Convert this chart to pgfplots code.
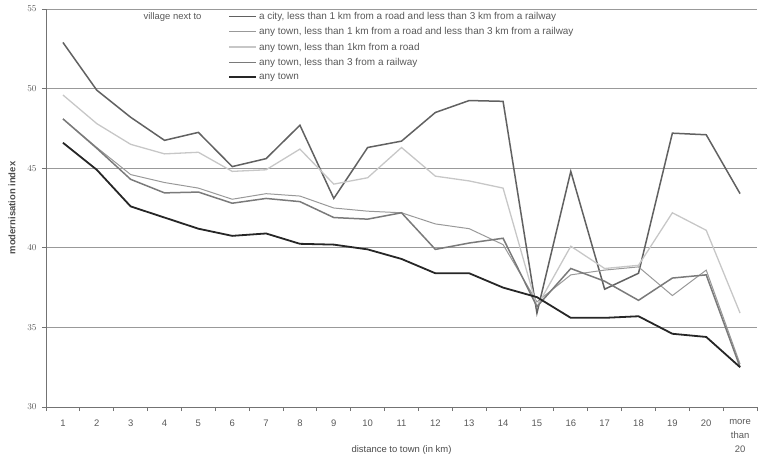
\documentclass[border=0pt]{standalone}
\usepackage{fontspec}
\setmainfont{Liberation Sans}
\usepackage{pgfplots}
\usepackage{pgfplotstable}
\pgfplotsset{compat=1.18}
\pgfplotstableread{
x y
1 52.9
2 49.9
3 48.2
4 46.75
5 47.25
6 45.1
7 45.6
8 47.7
9 43.1
10 46.3
11 46.7
12 48.5
13 49.25
14 49.2
15 35.9
16 44.8
17 37.4
18 38.4
19 47.2
20 47.1
21 43.4
}\sA
\pgfplotstableread{
x y
1 48.1
2 46.3
3 44.6
4 44.1
5 43.75
6 43.05
7 43.4
8 43.25
9 42.5
10 42.3
11 42.2
12 41.5
13 41.2
14 40.2
15 36.6
16 38.3
17 38.6
18 38.8
19 37.0
20 38.6
21 32.7
}\sB
\pgfplotstableread{
x y
1 49.6
2 47.8
3 46.5
4 45.9
5 46.0
6 44.8
7 44.9
8 46.2
9 44.0
10 44.4
11 46.3
12 44.5
13 44.2
14 43.75
15 36.3
16 40.1
17 38.7
18 38.9
19 42.2
20 41.1
21 35.9
}\sC
\pgfplotstableread{
x y
1 48.1
2 46.25
3 44.3
4 43.45
5 43.5
6 42.8
7 43.1
8 42.9
9 41.9
10 41.8
11 42.2
12 39.9
13 40.3
14 40.6
15 36.3
16 38.7
17 37.9
18 36.7
19 38.1
20 38.3
21 32.5
}\sD
\pgfplotstableread{
x y
1 46.6
2 44.9
3 42.6
4 41.9
5 41.2
6 40.75
7 40.9
8 40.25
9 40.2
10 39.9
11 39.3
12 38.4
13 38.4
14 37.5
15 36.9
16 35.6
17 35.6
18 35.7
19 34.6
20 34.4
21 32.5
}\sE
\begin{document}
\begin{tikzpicture}
\useasboundingbox (-46bp,-53bp) rectangle (719bp,407bp);
\begin{axis}[
  scale only axis, width=711bp, height=398bp,
  xmin=0.5, xmax=21.5, ymin=30, ymax=55,
  axis x line*=bottom, axis y line*=left,
  axis line style={black!55, line width=0.8bp},
  xtick={1,...,21},
  xticklabels={1,2,3,4,5,6,7,8,9,10,11,12,13,14,15,16,17,18,19,20,{more\\than\\20}},
  xticklabel style={align=center, font=\fontsize{9.5}{14}\selectfont, text=black!65, yshift=-5bp},
  major x tick style={draw=none},
  minor xtick={0.5,1.5,...,21.5},
  minor x tick style={black!55, line width=0.8bp},
  minor tick length=4bp,
  tick align=outside,
  ytick={30,35,...,55},
  yticklabel style={font=\fontsize{9.5}{10}\selectfont, text=black!65, xshift=-2bp},
  major tick length=4bp,
  major y tick style={black!55, line width=0.8bp},
  ymajorgrids, grid style={black!40, line width=0.8bp},
  xlabel={distance to town (in km)},
  xlabel style={at={(axis description cs:0.5,-0.108)}, anchor=center, font=\fontsize{9.5}{10}\selectfont, text=black!70},
  ylabel={modernisation index},
  ylabel style={at={(axis description cs:-0.048,0.5)}, anchor=center, font=\fontsize{9.5}{10}\selectfont\bfseries, text=black!70},
  legend style={at={(axis description cs:0.256,0.997)}, anchor=north west, draw=none, fill=none,
    font=\fontsize{10}{11}\selectfont, text=black!65, inner sep=0pt, row sep=2.5bp,
    cells={anchor=west}},
  legend image code/.code={\draw[#1] (0bp,0bp) -- (27bp,0bp);},
  legend cell align=left,
]
\addplot[black!62, line width=1.5bp] table[x=x,y=y]{\sA};
\addlegendentry{a city, less than 1 km from a road and less than 3 km from a railway}
\addplot[black!40, line width=1bp] table[x=x,y=y]{\sB};
\addlegendentry{any town, less than 1 km from a road and less than 3 km from a railway}
\addplot[black!22, line width=1.3bp] table[x=x,y=y]{\sC};
\addlegendentry{any town, less than 1km from a road}
\addplot[black!52, line width=1.5bp] table[x=x,y=y]{\sD};
\addlegendentry{any town, less than 3 from a railway}
\addplot[black!85, line width=1.8bp] table[x=x,y=y]{\sE};
\addlegendentry{any town}
\node[anchor=east, font=\fontsize{9.5}{10}\selectfont, text=black!65] at (rel axis cs:0.2236,0.979) {village next to};
\end{axis}
\end{tikzpicture}
\end{document}
